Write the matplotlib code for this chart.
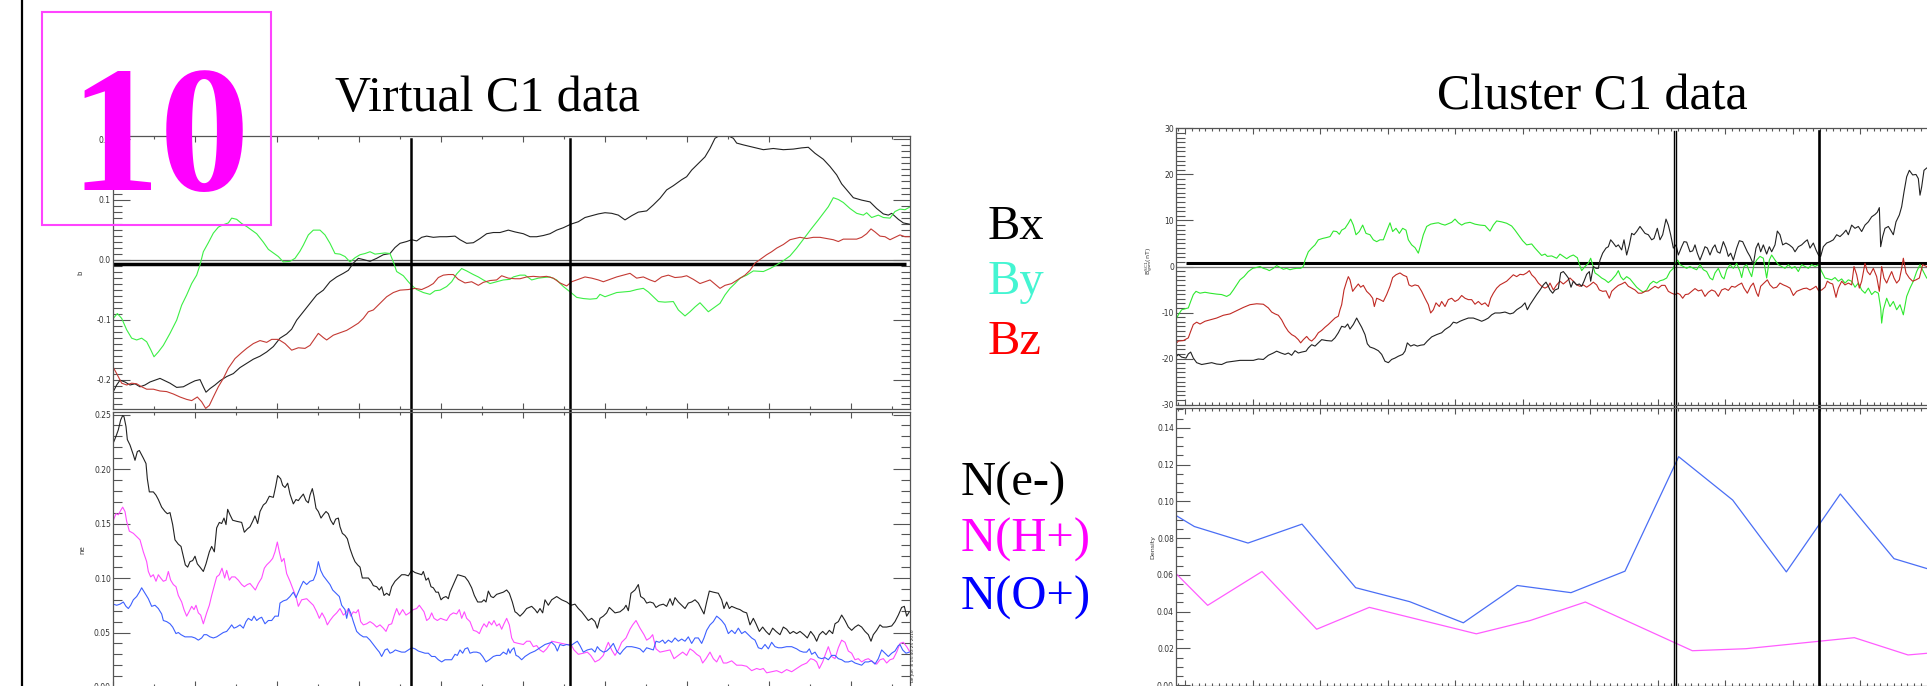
import matplotlib
matplotlib.use("Agg")
import matplotlib.pyplot as plt
import numpy as np
from matplotlib.lines import Line2D
from matplotlib.patches import Rectangle
from matplotlib.ticker import FuncFormatter, MultipleLocator

W, H = 1927, 686
SERIF = ["Liberation Serif", "DejaVu Serif"]

# ---- Virtual C1 (simulation), t = sample index ----
virt_bx = [(1, -0.220), (11, -0.209), (21, -0.201), (36, -0.204), (51, -0.209), (66, -0.207), (81, -0.212),
           (96, -0.209), (111, -0.204), (126, -0.201), (141, -0.198), (156, -0.202), (171, -0.206),
           (191, -0.213), (211, -0.212), (231, -0.206), (246, -0.202), (261, -0.200), (271, -0.212),
           (279, -0.221), (291, -0.215), (306, -0.209), (321, -0.202), (341, -0.195), (361, -0.190),
           (381, -0.180), (401, -0.173), (421, -0.166), (441, -0.161), (461, -0.154), (481, -0.145),
           (501, -0.131), (521, -0.124), (536, -0.116), (551, -0.101), (571, -0.087), (591, -0.073),
           (611, -0.059), (631, -0.051), (651, -0.037), (671, -0.029), (691, -0.023), (706, -0.018),
           (721, -0.006), (736, 0.002), (751, 0.000), (771, -0.003), (791, 0.002), (811, 0.008),
           (831, 0.010), (846, 0.020), (861, 0.027), (881, 0.030), (896, 0.033), (911, 0.031),
           (926, 0.037), (941, 0.039), (961, 0.037), (981, 0.038), (1001, 0.038), (1026, 0.039),
           (1041, 0.033), (1061, 0.027), (1081, 0.028), (1101, 0.035), (1121, 0.043), (1141, 0.045),
           (1161, 0.045), (1186, 0.049), (1206, 0.046), (1231, 0.043), (1251, 0.038), (1271, 0.038),
           (1291, 0.040), (1311, 0.043), (1331, 0.049), (1351, 0.053), (1374, 0.059), (1396, 0.063),
           (1416, 0.070), (1436, 0.073), (1456, 0.076), (1476, 0.078), (1496, 0.077), (1516, 0.074),
           (1536, 0.066), (1556, 0.073), (1576, 0.079), (1601, 0.081), (1621, 0.091), (1641, 0.102),
           (1661, 0.116), (1681, 0.123), (1706, 0.133), (1721, 0.138), (1736, 0.149), (1756, 0.160),
           (1776, 0.171), (1791, 0.185), (1806, 0.202), (1821, 0.207), (1846, 0.206), (1861, 0.202),
           (1871, 0.194), (1891, 0.191), (1921, 0.187), (1951, 0.183), (1981, 0.185), (2011, 0.183),
           (2041, 0.184), (2066, 0.186), (2086, 0.187), (2106, 0.177), (2131, 0.167), (2151, 0.155),
           (2171, 0.141), (2186, 0.126), (2206, 0.113), (2221, 0.103), (2246, 0.099), (2271, 0.096),
           (2291, 0.085), (2311, 0.076), (2326, 0.074), (2336, 0.077), (2356, 0.067), (2371, 0.061),
           (2389, 0.059)]
virt_by = [(1, -0.098), (13, -0.090), (26, -0.098), (41, -0.117), (56, -0.131), (71, -0.134), (86, -0.131),
           (101, -0.137), (113, -0.150), (123, -0.162), (136, -0.154), (151, -0.143), (171, -0.123),
           (191, -0.101), (206, -0.076), (221, -0.059), (236, -0.040), (251, -0.026), (261, -0.009),
           (271, 0.013), (286, 0.028), (301, 0.044), (316, 0.054), (331, 0.058), (346, 0.061),
           (356, 0.069), (371, 0.067), (386, 0.060), (401, 0.055), (416, 0.049), (431, 0.043),
           (451, 0.029), (466, 0.017), (481, 0.011), (496, 0.005), (511, -0.004), (531, -0.003),
           (546, 0.002), (561, 0.014), (571, 0.024), (586, 0.041), (601, 0.049), (621, 0.049),
           (636, 0.041), (651, 0.027), (666, 0.010), (681, 0.009), (696, 0.005), (711, -0.004),
           (726, 0.003), (741, 0.008), (756, 0.010), (771, 0.013), (786, 0.009), (801, 0.010),
           (816, 0.011), (831, 0.010), (841, -0.004), (851, -0.020), (871, -0.027), (886, -0.037),
           (896, -0.043), (911, -0.050), (931, -0.055), (951, -0.058), (966, -0.052), (981, -0.051),
           (1001, -0.045), (1016, -0.037), (1031, -0.024), (1046, -0.015), (1061, -0.019),
           (1081, -0.025), (1096, -0.029), (1111, -0.034), (1131, -0.040), (1151, -0.037),
           (1171, -0.034), (1191, -0.033), (1201, -0.029), (1221, -0.026), (1236, -0.026),
           (1256, -0.034), (1276, -0.031), (1291, -0.030), (1311, -0.029), (1331, -0.034),
           (1351, -0.045), (1374, -0.055), (1391, -0.063), (1411, -0.065), (1431, -0.066),
           (1451, -0.065), (1461, -0.058), (1476, -0.062), (1491, -0.059), (1511, -0.055),
           (1531, -0.054), (1551, -0.053), (1571, -0.050), (1591, -0.048), (1606, -0.054),
           (1621, -0.062), (1636, -0.070), (1656, -0.071), (1681, -0.070), (1696, -0.084),
           (1716, -0.094), (1731, -0.087), (1746, -0.079), (1761, -0.072), (1776, -0.081),
           (1786, -0.087), (1801, -0.081), (1821, -0.073), (1836, -0.059), (1851, -0.048),
           (1866, -0.040), (1881, -0.031), (1901, -0.026), (1921, -0.019), (1951, -0.020),
           (1971, -0.015), (1991, -0.009), (2011, -0.002), (2031, 0.006), (2051, 0.019),
           (2066, 0.030), (2081, 0.041), (2096, 0.052), (2116, 0.066), (2131, 0.077), (2146, 0.088),
           (2161, 0.103), (2176, 0.100), (2191, 0.095), (2211, 0.085), (2231, 0.077), (2251, 0.074),
           (2261, 0.078), (2276, 0.070), (2296, 0.074), (2311, 0.070), (2331, 0.069), (2346, 0.080),
           (2361, 0.084), (2376, 0.083), (2389, 0.087)]
virt_bz = [(1, -0.180), (11, -0.190), (26, -0.206), (41, -0.209), (56, -0.206), (71, -0.207), (86, -0.212),
           (101, -0.216), (121, -0.216), (141, -0.219), (161, -0.220), (181, -0.224), (201, -0.229),
           (221, -0.233), (236, -0.235), (253, -0.229), (266, -0.237), (278, -0.248), (289, -0.243),
           (301, -0.229), (316, -0.212), (331, -0.198), (346, -0.181), (366, -0.165), (386, -0.155),
           (401, -0.148), (421, -0.140), (441, -0.135), (461, -0.138), (476, -0.133), (496, -0.133),
           (516, -0.140), (536, -0.151), (556, -0.147), (576, -0.148), (591, -0.143), (606, -0.131),
           (616, -0.123), (631, -0.130), (641, -0.134), (661, -0.126), (681, -0.122), (701, -0.118),
           (716, -0.113), (736, -0.106), (751, -0.098), (766, -0.087), (781, -0.084), (801, -0.073),
           (821, -0.062), (841, -0.055), (861, -0.051), (886, -0.050), (906, -0.048), (926, -0.050),
           (946, -0.045), (961, -0.040), (976, -0.030), (991, -0.026), (1006, -0.025), (1021, -0.025),
           (1036, -0.033), (1056, -0.039), (1076, -0.037), (1096, -0.043), (1111, -0.038),
           (1131, -0.035), (1151, -0.034), (1166, -0.027), (1186, -0.031), (1206, -0.032),
           (1221, -0.032), (1241, -0.029), (1261, -0.028), (1281, -0.029), (1301, -0.028),
           (1321, -0.031), (1341, -0.039), (1361, -0.044), (1376, -0.037), (1396, -0.033),
           (1416, -0.029), (1436, -0.031), (1456, -0.034), (1471, -0.037), (1491, -0.033),
           (1511, -0.029), (1531, -0.026), (1551, -0.023), (1571, -0.031), (1591, -0.029),
           (1611, -0.034), (1626, -0.037), (1646, -0.029), (1666, -0.026), (1686, -0.030),
           (1706, -0.029), (1721, -0.027), (1741, -0.033), (1761, -0.040), (1776, -0.037),
           (1791, -0.034), (1806, -0.041), (1821, -0.048), (1836, -0.043), (1856, -0.040),
           (1876, -0.033), (1896, -0.026), (1911, -0.018), (1926, -0.006), (1946, 0.002),
           (1961, 0.008), (1976, 0.013), (1991, 0.019), (2011, 0.025), (2031, 0.033), (2046, 0.035),
           (2061, 0.037), (2081, 0.035), (2101, 0.037), (2121, 0.037), (2141, 0.035), (2161, 0.033),
           (2176, 0.030), (2191, 0.034), (2211, 0.034), (2231, 0.034), (2246, 0.037), (2261, 0.043),
           (2274, 0.051), (2286, 0.046), (2301, 0.039), (2316, 0.038), (2331, 0.033), (2346, 0.037),
           (2361, 0.041), (2376, 0.038), (2389, 0.038)]

virt_ne = [(1, 0.224), (9, 0.230), (16, 0.236), (23, 0.245), (29, 0.249), (33, 0.248), (39, 0.239), (43, 0.227),
           (51, 0.222), (61, 0.213), (66, 0.208), (73, 0.216), (79, 0.217), (86, 0.213), (91, 0.210),
           (99, 0.205), (103, 0.191), (109, 0.179), (121, 0.179), (129, 0.176), (136, 0.172), (146, 0.165),
           (156, 0.161), (163, 0.159), (171, 0.160), (179, 0.149), (186, 0.135), (196, 0.131), (204, 0.129),
           (211, 0.120), (217, 0.112), (224, 0.110), (231, 0.115), (239, 0.116), (246, 0.120), (253, 0.113),
           (261, 0.110), (271, 0.106), (279, 0.113), (289, 0.124), (296, 0.129), (304, 0.124), (311, 0.146),
           (319, 0.151), (326, 0.150), (333, 0.155), (339, 0.149), (344, 0.163), (351, 0.158), (359, 0.153),
           (371, 0.152), (386, 0.151), (394, 0.142), (403, 0.145), (411, 0.147), (419, 0.152), (426, 0.157),
           (434, 0.150), (441, 0.161), (451, 0.167), (459, 0.169), (469, 0.175), (481, 0.174), (488, 0.184),
           (494, 0.194), (503, 0.191), (509, 0.185), (516, 0.183), (524, 0.187), (531, 0.177), (541, 0.168),
           (549, 0.172), (556, 0.171), (563, 0.174), (571, 0.177), (579, 0.171), (586, 0.169), (591, 0.176),
           (598, 0.182), (603, 0.175), (609, 0.164), (616, 0.161), (624, 0.155), (631, 0.158), (639, 0.161),
           (646, 0.159), (653, 0.153), (661, 0.149), (668, 0.154), (676, 0.155), (681, 0.147), (688, 0.141),
           (696, 0.139), (703, 0.136), (711, 0.127), (719, 0.120), (726, 0.115), (734, 0.112), (741, 0.110),
           (748, 0.100), (756, 0.100), (766, 0.100), (774, 0.097), (781, 0.093), (791, 0.092), (799, 0.089),
           (806, 0.092), (813, 0.084), (821, 0.086), (829, 0.084), (836, 0.092), (846, 0.097), (856, 0.100),
           (866, 0.103), (876, 0.103), (886, 0.102), (896, 0.107), (906, 0.105), (916, 0.104), (926, 0.103),
           (931, 0.106), (939, 0.098), (946, 0.100), (954, 0.092), (961, 0.091), (969, 0.087), (976, 0.087),
           (984, 0.080), (991, 0.082), (999, 0.083), (1006, 0.081), (1011, 0.087), (1021, 0.094),
           (1034, 0.103), (1046, 0.102), (1056, 0.101), (1066, 0.097), (1076, 0.091), (1084, 0.084),
           (1094, 0.078), (1106, 0.078), (1113, 0.080), (1119, 0.078), (1126, 0.088), (1134, 0.083),
           (1141, 0.082), (1151, 0.085), (1161, 0.086), (1171, 0.087), (1181, 0.089), (1189, 0.086),
           (1198, 0.078), (1206, 0.069), (1211, 0.068), (1221, 0.065), (1231, 0.068), (1241, 0.072),
           (1256, 0.074), (1266, 0.071), (1273, 0.068), (1281, 0.072), (1289, 0.068), (1296, 0.080),
           (1306, 0.075), (1316, 0.080), (1331, 0.083), (1346, 0.080), (1361, 0.078), (1374, 0.075),
           (1386, 0.076), (1396, 0.072), (1406, 0.069), (1416, 0.065), (1426, 0.061), (1436, 0.063),
           (1446, 0.060), (1453, 0.054), (1461, 0.063), (1471, 0.065), (1481, 0.068), (1489, 0.073),
           (1496, 0.071), (1506, 0.068), (1521, 0.069), (1533, 0.072), (1539, 0.075), (1546, 0.070),
           (1554, 0.086), (1566, 0.089), (1576, 0.094), (1583, 0.083), (1593, 0.081), (1601, 0.077),
           (1611, 0.078), (1621, 0.077), (1629, 0.073), (1639, 0.075), (1651, 0.076), (1661, 0.074),
           (1671, 0.081), (1679, 0.075), (1686, 0.082), (1696, 0.078), (1706, 0.075), (1716, 0.072),
           (1726, 0.077), (1736, 0.078), (1746, 0.080), (1756, 0.077), (1766, 0.071), (1773, 0.067),
           (1781, 0.078), (1789, 0.088), (1801, 0.087), (1816, 0.086), (1826, 0.080), (1833, 0.072),
           (1841, 0.078), (1849, 0.072), (1856, 0.074), (1871, 0.072), (1881, 0.071), (1891, 0.069),
           (1901, 0.068), (1911, 0.057), (1921, 0.063), (1929, 0.058), (1939, 0.051), (1949, 0.055),
           (1959, 0.051), (1969, 0.048), (1979, 0.054), (1989, 0.051), (2001, 0.048), (2011, 0.055),
           (2021, 0.053), (2031, 0.049), (2041, 0.051), (2051, 0.049), (2061, 0.051), (2073, 0.048),
           (2083, 0.045), (2093, 0.051), (2103, 0.047), (2111, 0.042), (2119, 0.048), (2129, 0.051),
           (2139, 0.048), (2149, 0.052), (2159, 0.049), (2166, 0.058), (2176, 0.060), (2186, 0.066),
           (2196, 0.061), (2206, 0.055), (2216, 0.052), (2226, 0.055), (2236, 0.057), (2246, 0.055),
           (2256, 0.051), (2266, 0.048), (2274, 0.042), (2281, 0.048), (2291, 0.052), (2301, 0.057),
           (2309, 0.055), (2321, 0.055), (2336, 0.056), (2346, 0.060), (2356, 0.066), (2366, 0.073),
           (2374, 0.074), (2381, 0.065), (2389, 0.069)]
virt_nh = [(1, 0.153), (9, 0.159), (16, 0.158), (23, 0.162), (29, 0.165), (36, 0.161), (41, 0.152), (49, 0.143),
           (61, 0.141), (71, 0.138), (81, 0.135), (91, 0.124), (101, 0.115), (106, 0.106), (113, 0.101),
           (121, 0.103), (129, 0.097), (136, 0.103), (143, 0.100), (151, 0.097), (159, 0.098), (166, 0.106),
           (173, 0.098), (181, 0.094), (189, 0.092), (196, 0.084), (206, 0.078), (213, 0.071), (221, 0.065),
           (228, 0.069), (236, 0.074), (243, 0.071), (249, 0.075), (256, 0.068), (263, 0.066), (271, 0.058),
           (281, 0.068), (289, 0.075), (296, 0.084), (303, 0.092), (311, 0.101), (319, 0.103), (327, 0.109),
           (335, 0.100), (341, 0.107), (349, 0.098), (356, 0.101), (366, 0.101), (376, 0.098), (386, 0.094),
           (394, 0.092), (403, 0.094), (411, 0.095), (419, 0.092), (427, 0.089), (436, 0.095), (446, 0.100),
           (454, 0.109), (461, 0.112), (471, 0.115), (479, 0.118), (486, 0.124), (493, 0.133), (499, 0.124),
           (506, 0.115), (513, 0.118), (521, 0.104), (531, 0.097), (541, 0.089), (549, 0.083), (556, 0.074),
           (566, 0.080), (581, 0.081), (591, 0.078), (601, 0.075), (611, 0.069), (619, 0.063), (627, 0.068),
           (636, 0.063), (643, 0.057), (651, 0.061), (661, 0.065), (671, 0.068), (681, 0.072), (691, 0.066),
           (699, 0.068), (706, 0.072), (713, 0.065), (721, 0.069), (729, 0.068), (736, 0.071), (743, 0.060),
           (751, 0.057), (761, 0.058), (771, 0.060), (781, 0.058), (791, 0.055), (801, 0.057), (811, 0.054),
           (819, 0.051), (827, 0.057), (836, 0.058), (844, 0.066), (851, 0.072), (859, 0.066), (869, 0.071),
           (879, 0.066), (889, 0.068), (901, 0.071), (911, 0.072), (919, 0.075), (926, 0.072), (933, 0.069),
           (941, 0.061), (949, 0.063), (956, 0.068), (963, 0.063), (973, 0.061), (983, 0.063), (991, 0.062),
           (1001, 0.061), (1011, 0.066), (1021, 0.068), (1031, 0.067), (1039, 0.071), (1046, 0.063),
           (1054, 0.069), (1061, 0.063), (1071, 0.060), (1081, 0.052), (1091, 0.051), (1099, 0.049),
           (1106, 0.054), (1113, 0.058), (1121, 0.055), (1128, 0.060), (1136, 0.057), (1143, 0.061),
           (1151, 0.056), (1159, 0.058), (1166, 0.053), (1173, 0.058), (1181, 0.063), (1189, 0.057),
           (1196, 0.045), (1203, 0.041), (1216, 0.040), (1231, 0.039), (1241, 0.042), (1251, 0.042),
           (1261, 0.037), (1271, 0.038), (1281, 0.034), (1291, 0.032), (1301, 0.035), (1316, 0.042),
           (1331, 0.041), (1346, 0.040), (1361, 0.039), (1374, 0.039), (1383, 0.034), (1396, 0.030),
           (1411, 0.031), (1423, 0.032), (1433, 0.029), (1446, 0.023), (1459, 0.025), (1471, 0.029),
           (1479, 0.036), (1486, 0.041), (1496, 0.034), (1506, 0.029), (1516, 0.034), (1526, 0.041),
           (1539, 0.045), (1551, 0.053), (1559, 0.057), (1569, 0.061), (1581, 0.054), (1593, 0.048),
           (1601, 0.043), (1611, 0.045), (1619, 0.048), (1629, 0.035), (1641, 0.032), (1656, 0.033),
           (1671, 0.034), (1683, 0.026), (1696, 0.029), (1709, 0.032), (1721, 0.029), (1731, 0.035),
           (1741, 0.033), (1751, 0.030), (1761, 0.028), (1769, 0.022), (1779, 0.026), (1791, 0.032),
           (1801, 0.026), (1811, 0.023), (1821, 0.029), (1831, 0.022), (1841, 0.022), (1856, 0.024),
           (1871, 0.020), (1886, 0.020), (1901, 0.019), (1916, 0.015), (1931, 0.017), (1941, 0.016),
           (1951, 0.017), (1961, 0.013), (1976, 0.014), (1991, 0.015), (2006, 0.013), (2021, 0.016),
           (2036, 0.014), (2051, 0.017), (2066, 0.020), (2081, 0.022), (2093, 0.026), (2103, 0.025),
           (2111, 0.023), (2119, 0.017), (2129, 0.023), (2136, 0.029), (2146, 0.037), (2156, 0.028),
           (2166, 0.026), (2176, 0.036), (2186, 0.043), (2196, 0.041), (2206, 0.033), (2216, 0.031),
           (2226, 0.025), (2236, 0.026), (2246, 0.023), (2256, 0.025), (2266, 0.026), (2279, 0.023),
           (2291, 0.021), (2301, 0.025), (2311, 0.026), (2321, 0.022), (2331, 0.025), (2341, 0.026),
           (2351, 0.032), (2361, 0.040), (2371, 0.041), (2381, 0.037), (2389, 0.033)]
virt_no = [(1, 0.076), (11, 0.075), (21, 0.076), (31, 0.078), (39, 0.074), (46, 0.072), (53, 0.075), (61, 0.080),
           (71, 0.083), (79, 0.087), (86, 0.091), (96, 0.086), (106, 0.081), (116, 0.074), (126, 0.075),
           (136, 0.072), (146, 0.067), (151, 0.061), (161, 0.060), (171, 0.058), (179, 0.055), (189, 0.049),
           (196, 0.050), (204, 0.048), (216, 0.046), (226, 0.046), (236, 0.046), (246, 0.045), (256, 0.043),
           (266, 0.045), (273, 0.048), (281, 0.048), (291, 0.046), (301, 0.045), (311, 0.046), (321, 0.048),
           (331, 0.050), (341, 0.051), (349, 0.054), (356, 0.057), (363, 0.054), (371, 0.055), (381, 0.057),
           (391, 0.054), (399, 0.060), (406, 0.063), (416, 0.061), (423, 0.065), (431, 0.061), (439, 0.063),
           (446, 0.064), (456, 0.058), (466, 0.061), (476, 0.061), (486, 0.065), (496, 0.065), (501, 0.077),
           (511, 0.079), (521, 0.080), (531, 0.083), (541, 0.087), (549, 0.082), (556, 0.087), (563, 0.092),
           (571, 0.097), (581, 0.094), (591, 0.097), (601, 0.098), (609, 0.104), (616, 0.115), (623, 0.107),
           (631, 0.102), (641, 0.098), (651, 0.094), (659, 0.089), (669, 0.086), (679, 0.083), (686, 0.075),
           (691, 0.073), (696, 0.071), (701, 0.063), (707, 0.072), (713, 0.068), (721, 0.060), (731, 0.051),
           (741, 0.048), (751, 0.046), (761, 0.046), (771, 0.043), (781, 0.039), (791, 0.035), (799, 0.032),
           (806, 0.028), (816, 0.034), (823, 0.035), (831, 0.031), (839, 0.032), (847, 0.034), (856, 0.033),
           (866, 0.032), (876, 0.032), (886, 0.034), (896, 0.036), (906, 0.035), (916, 0.033), (926, 0.032),
           (936, 0.031), (946, 0.031), (956, 0.028), (966, 0.028), (976, 0.025), (986, 0.023), (996, 0.025),
           (1006, 0.025), (1016, 0.025), (1026, 0.030), (1033, 0.029), (1041, 0.034), (1049, 0.031),
           (1056, 0.035), (1064, 0.036), (1071, 0.031), (1081, 0.032), (1091, 0.032), (1101, 0.031),
           (1109, 0.028), (1119, 0.023), (1129, 0.025), (1141, 0.028), (1151, 0.029), (1161, 0.029),
           (1171, 0.032), (1181, 0.030), (1186, 0.035), (1191, 0.031), (1196, 0.034), (1203, 0.036),
           (1209, 0.029), (1216, 0.028), (1226, 0.025), (1236, 0.028), (1251, 0.031), (1266, 0.033),
           (1281, 0.036), (1296, 0.039), (1306, 0.040), (1316, 0.041), (1326, 0.038), (1333, 0.033),
           (1341, 0.039), (1351, 0.038), (1361, 0.039), (1374, 0.038), (1383, 0.040), (1393, 0.042),
           (1401, 0.038), (1411, 0.032), (1423, 0.034), (1436, 0.035), (1446, 0.032), (1453, 0.037),
           (1461, 0.034), (1471, 0.032), (1481, 0.033), (1491, 0.036), (1501, 0.040), (1511, 0.033),
           (1521, 0.030), (1531, 0.034), (1541, 0.037), (1556, 0.037), (1571, 0.036), (1581, 0.035),
           (1591, 0.032), (1601, 0.036), (1611, 0.035), (1621, 0.034), (1629, 0.042), (1639, 0.041),
           (1649, 0.043), (1656, 0.040), (1666, 0.043), (1676, 0.041), (1686, 0.045), (1696, 0.042),
           (1706, 0.044), (1716, 0.042), (1726, 0.046), (1736, 0.040), (1746, 0.045), (1756, 0.045),
           (1766, 0.040), (1773, 0.045), (1781, 0.052), (1791, 0.057), (1801, 0.060), (1811, 0.065),
           (1819, 0.063), (1826, 0.061), (1836, 0.057), (1846, 0.049), (1856, 0.052), (1866, 0.049),
           (1876, 0.054), (1886, 0.049), (1896, 0.051), (1906, 0.048), (1916, 0.045), (1926, 0.043),
           (1936, 0.036), (1946, 0.035), (1956, 0.039), (1966, 0.035), (1976, 0.041), (1986, 0.037),
           (1996, 0.036), (2006, 0.036), (2021, 0.037), (2036, 0.037), (2051, 0.035), (2061, 0.033),
           (2071, 0.032), (2081, 0.032), (2089, 0.035), (2096, 0.030), (2106, 0.032), (2116, 0.027),
           (2126, 0.026), (2136, 0.027), (2146, 0.025), (2156, 0.029), (2166, 0.029), (2176, 0.026),
           (2186, 0.025), (2196, 0.023), (2206, 0.023), (2216, 0.024), (2226, 0.022), (2236, 0.021),
           (2246, 0.020), (2256, 0.023), (2266, 0.023), (2276, 0.024), (2286, 0.021), (2296, 0.026),
           (2306, 0.034), (2316, 0.031), (2326, 0.028), (2336, 0.031), (2346, 0.033), (2356, 0.038),
           (2361, 0.039), (2369, 0.034), (2379, 0.031), (2389, 0.032)]

# ---- Cluster C1 (spacecraft), same time base for field and density ----
clu_bx = [(15, -19.9), (25, -19.1), (35, -19.7), (48, -19.9), (55, -19.0), (62, -18.6), (70, -19.9), (80, -20.9),
          (95, -21.3), (110, -21.1), (125, -20.9), (140, -21.2), (155, -21.3), (170, -20.8), (190, -20.6),
          (210, -20.4), (230, -20.4), (250, -20.4), (265, -20.1), (280, -20.2), (295, -19.3), (310, -18.8),
          (320, -18.4), (333, -18.8), (345, -19.1), (355, -18.8), (365, -19.3), (375, -18.3), (385, -18.8),
          (395, -18.6), (408, -18.4), (415, -17.7), (425, -17.0), (435, -17.3), (445, -16.6), (455, -15.9),
          (470, -16.1), (485, -16.2), (495, -15.5), (505, -14.4), (515, -13.0), (525, -13.2), (533, -12.5),
          (540, -13.6), (550, -12.6), (560, -11.2), (565, -11.9), (575, -13.2), (585, -14.8), (592, -16.8),
          (600, -17.5), (612, -17.8), (625, -18.3), (635, -19.1), (645, -20.6), (655, -20.9), (665, -20.2),
          (675, -19.9), (685, -19.5), (698, -19.1), (705, -18.4), (712, -16.6), (722, -17.3), (732, -17.0),
          (742, -17.3), (752, -17.1), (762, -17.0), (772, -16.2), (785, -15.3), (800, -14.8), (815, -14.4),
          (825, -13.7), (840, -13.0), (850, -12.1), (860, -12.3), (870, -11.9), (880, -11.6), (895, -11.2),
          (910, -11.2), (925, -11.6), (935, -11.9), (945, -11.6), (955, -11.2), (965, -10.5), (975, -10.1),
          (990, -10.1), (1005, -9.9), (1020, -10.3), (1030, -10.1), (1040, -9.4), (1055, -8.7), (1065, -7.9),
          (1072, -9.4), (1080, -8.3), (1090, -7.2), (1100, -6.1), (1110, -5.1), (1120, -4.0), (1128, -3.4),
          (1135, -4.3), (1140, -5.1), (1148, -5.8), (1155, -5.1), (1165, -4.8), (1172, -1.4), (1180, -1.1),
          (1188, -1.8), (1195, -2.5), (1203, -4.5), (1210, -3.2), (1220, -4.0), (1228, -3.8), (1235, -4.3),
          (1242, -3.2), (1250, -1.7), (1258, -1.1), (1262, -3.2), (1270, 0.0), (1278, -0.4), (1285, -0.4),
          (1290, 1.4), (1298, 2.9), (1308, 4.0), (1315, 4.3), (1322, 5.8), (1330, 5.1), (1338, 4.3),
          (1345, 4.7), (1355, 3.6), (1362, 5.8), (1370, 2.5), (1378, 4.7), (1385, 7.2), (1392, 6.9),
          (1400, 7.6), (1410, 8.7), (1418, 7.9), (1425, 7.2), (1435, 6.9), (1445, 5.8), (1452, 6.1),
          (1462, 8.3), (1470, 5.8), (1478, 6.9), (1488, 10.3), (1495, 9.0), (1502, 6.9), (1510, 4.0),
          (1518, 4.7), (1525, 2.5), (1535, 4.3), (1542, 5.4), (1550, 5.3), (1560, 3.2), (1568, 3.4),
          (1575, 4.7), (1582, 2.9), (1590, 1.4), (1598, 2.9), (1605, 4.3), (1612, 4.0), (1620, 2.5),
          (1628, 4.0), (1635, 4.7), (1642, 3.2), (1650, 2.9), (1660, 5.4), (1668, 4.0), (1675, 2.2),
          (1682, 2.9), (1690, 1.4), (1700, 4.0), (1708, 5.6), (1718, 5.4), (1725, 4.3), (1732, 3.2),
          (1740, 2.2), (1750, 0.5), (1758, 4.0), (1765, 5.1), (1772, 3.2), (1780, 4.7), (1790, 2.7),
          (1798, 4.3), (1805, 3.2), (1815, 4.7), (1822, 7.7), (1830, 6.9), (1838, 4.7), (1848, 5.1),
          (1858, 4.7), (1868, 4.1), (1875, 3.2), (1885, 4.3), (1895, 4.7), (1905, 5.4), (1912, 5.8),
          (1920, 4.0), (1930, 5.1), (1938, 3.6), (1946, 2.4), (1952, 2.2), (1960, 4.3), (1970, 5.1),
          (1980, 5.4), (1990, 5.8), (2000, 6.9), (2010, 6.5), (2020, 7.2), (2028, 7.9), (2035, 6.9),
          (2045, 9.0), (2055, 8.3), (2065, 8.7), (2075, 7.6), (2085, 9.0), (2095, 9.7), (2105, 10.8),
          (2115, 11.3), (2122, 11.8), (2128, 12.8), (2132, 4.3), (2138, 6.5), (2145, 8.3), (2155, 8.7),
          (2162, 7.9), (2170, 6.9), (2178, 9.7), (2188, 11.2), (2195, 13.0), (2202, 16.2), (2210, 19.5),
          (2218, 20.9), (2228, 19.9), (2238, 20.0), (2245, 19.1), (2250, 15.5), (2255, 17.3), (2262, 20.9),
          (2270, 21.4)]
clu_by = [(15, -11.9), (25, -10.5), (35, -9.4), (45, -9.2), (55, -9.0), (62, -7.6), (70, -6.1), (78, -5.4),
          (90, -5.8), (105, -5.6), (120, -5.8), (140, -6.0), (155, -6.1), (170, -6.5), (180, -6.1),
          (190, -5.1), (200, -4.0), (210, -2.9), (222, -2.2), (235, -1.1), (248, -0.4), (260, -0.2),
          (270, 0.0), (280, -0.4), (290, -0.6), (298, -0.9), (310, -0.4), (320, 0.2), (330, -0.2),
          (340, -0.6), (350, -0.4), (360, -0.7), (370, -0.5), (380, -0.4), (392, -0.4), (400, 0.0),
          (405, 1.4), (415, 3.2), (425, 4.0), (435, 4.7), (445, 5.8), (458, 6.1), (470, 6.3), (480, 6.5),
          (490, 7.7), (500, 7.6), (508, 7.0), (515, 7.9), (525, 8.3), (535, 9.4), (542, 10.3), (550, 9.0),
          (558, 6.9), (568, 7.6), (578, 9.0), (588, 7.2), (600, 6.9), (610, 5.8), (620, 5.4), (630, 5.8),
          (640, 5.8), (650, 7.7), (660, 9.5), (668, 7.6), (678, 8.3), (688, 7.2), (698, 8.3), (708, 7.9),
          (715, 5.8), (725, 4.7), (735, 4.1), (745, 2.9), (752, 4.7), (760, 6.9), (770, 8.7), (782, 9.2),
          (795, 9.4), (805, 9.5), (815, 9.2), (825, 9.0), (835, 9.3), (845, 9.6), (855, 10.3), (865, 9.5),
          (875, 9.0), (885, 9.4), (900, 9.6), (915, 9.2), (930, 9.0), (945, 8.9), (960, 7.7), (970, 9.0),
          (980, 9.9), (995, 9.7), (1010, 9.4), (1025, 8.8), (1035, 7.9), (1045, 6.9), (1058, 5.6),
          (1070, 4.7), (1085, 4.9), (1095, 4.0), (1105, 3.2), (1115, 2.4), (1125, 2.7), (1132, 2.2),
          (1145, 2.3), (1160, 1.8), (1170, 2.7), (1180, 2.2), (1190, 1.7), (1200, 2.2), (1210, 2.5),
          (1222, 1.9), (1228, 0.5), (1235, -0.9), (1245, 0.0), (1255, 0.7), (1262, 1.8), (1268, 0.4),
          (1275, -1.4), (1285, -1.9), (1295, -2.5), (1305, -2.9), (1315, -3.5), (1325, -2.9), (1338, -1.8),
          (1345, -0.9), (1352, -2.2), (1360, -2.9), (1370, -2.2), (1380, -2.7), (1390, -3.6), (1400, -4.5),
          (1410, -5.1), (1420, -5.6), (1430, -5.1), (1440, -3.8), (1450, -3.2), (1460, -3.6), (1470, -3.1),
          (1480, -2.9), (1490, -2.5), (1500, -1.1), (1510, -0.4), (1515, 0.7), (1523, 1.4), (1530, 0.4),
          (1540, 0.0), (1550, -0.4), (1560, 0.0), (1570, -0.4), (1580, -0.7), (1590, 0.4), (1600, -0.7),
          (1610, -1.1), (1620, -2.5), (1628, -2.9), (1635, -1.4), (1645, -0.4), (1655, -2.2), (1662, -2.7),
          (1670, -0.7), (1680, 0.4), (1690, -0.4), (1700, 0.7), (1710, -1.1), (1715, -2.4), (1722, 0.0),
          (1730, 0.4), (1738, -1.1), (1745, -2.2), (1752, 0.4), (1760, 1.4), (1770, 2.2), (1780, 1.8),
          (1790, -2.5), (1798, 1.4), (1805, 2.5), (1815, 1.4), (1825, 0.4), (1835, 0.0), (1845, -0.4),
          (1855, 0.4), (1865, -0.4), (1875, 0.0), (1885, -1.1), (1895, 0.4), (1905, 0.0), (1915, -0.4),
          (1925, 0.4), (1935, 0.0), (1946, 0.4), (1955, -1.1), (1965, -2.5), (1975, -2.7), (1985, -2.9),
          (1995, -2.4), (2005, -3.2), (2015, -2.7), (2025, -3.6), (2035, -2.9), (2045, -3.2), (2055, -4.5),
          (2065, -3.6), (2075, -5.1), (2085, -5.8), (2095, -4.7), (2105, -6.1), (2115, -5.4), (2125, -5.8),
          (2132, -9.0), (2135, -12.3), (2140, -9.4), (2150, -6.9), (2160, -8.7), (2170, -7.6), (2180, -9.4),
          (2190, -8.3), (2200, -10.5), (2210, -6.5), (2220, -4.7), (2230, -3.2), (2240, -1.1), (2250, 0.4),
          (2260, -1.1), (2270, -2.5)]
clu_bz = [(15, -17.0), (25, -16.2), (40, -16.1), (55, -15.5), (62, -14.1), (70, -12.6), (80, -12.1), (90, -12.5),
          (105, -11.9), (120, -11.6), (140, -11.2), (160, -10.6), (180, -10.3), (200, -9.6), (220, -8.9),
          (240, -8.3), (260, -8.1), (280, -8.2), (295, -9.0), (305, -9.9), (315, -10.3), (325, -10.6),
          (335, -11.6), (345, -13.0), (355, -14.1), (365, -14.8), (375, -15.2), (385, -15.9), (392, -16.6),
          (400, -15.9), (410, -15.2), (418, -15.9), (425, -16.2), (435, -15.5), (445, -14.4), (455, -13.9),
          (465, -13.2), (475, -12.6), (485, -11.9), (495, -11.2), (505, -10.8), (510, -9.4), (515, -8.3),
          (522, -5.1), (530, -3.2), (535, -2.2), (540, -2.9), (548, -5.4), (555, -4.7), (565, -3.8),
          (572, -4.5), (580, -4.1), (590, -5.4), (600, -6.1), (608, -6.9), (613, -8.7), (620, -6.9),
          (630, -7.2), (640, -7.6), (650, -6.1), (660, -4.3), (668, -2.4), (678, -1.8), (690, -1.4),
          (700, -1.9), (710, -2.2), (717, -4.0), (725, -4.3), (735, -4.0), (745, -4.2), (755, -5.4),
          (765, -6.9), (775, -8.3), (782, -10.1), (790, -9.4), (798, -7.9), (808, -8.7), (815, -7.6),
          (825, -8.7), (835, -7.2), (845, -6.9), (855, -7.6), (865, -7.2), (875, -6.3), (885, -6.9),
          (895, -7.2), (905, -7.2), (915, -8.2), (925, -7.6), (935, -8.3), (945, -7.9), (955, -8.7),
          (962, -6.9), (970, -5.8), (980, -4.7), (990, -4.0), (1000, -3.6), (1010, -3.2), (1020, -2.5),
          (1030, -1.8), (1040, -2.2), (1050, -1.7), (1060, -1.8), (1070, -1.4), (1078, -0.9), (1085, -1.8),
          (1095, -2.5), (1105, -3.6), (1115, -4.3), (1125, -4.7), (1135, -4.3), (1140, -3.6), (1150, -5.1),
          (1160, -4.0), (1170, -3.2), (1180, -3.8), (1190, -3.2), (1200, -2.5), (1210, -3.2), (1220, -4.0),
          (1230, -4.3), (1240, -4.0), (1250, -4.5), (1260, -4.0), (1270, -3.4), (1280, -4.0), (1288, -5.1),
          (1298, -5.4), (1308, -5.3), (1318, -6.9), (1325, -5.4), (1335, -4.7), (1345, -4.1), (1355, -3.8),
          (1365, -3.4), (1375, -4.3), (1385, -4.7), (1395, -5.1), (1405, -5.8), (1415, -5.8), (1425, -5.4),
          (1435, -5.3), (1445, -4.8), (1455, -4.3), (1465, -4.7), (1475, -4.1), (1485, -4.1), (1495, -5.4),
          (1505, -5.8), (1515, -6.1), (1523, -5.8), (1530, -6.1), (1538, -6.9), (1546, -6.1), (1555, -6.0),
          (1565, -5.4), (1575, -4.8), (1585, -5.3), (1595, -5.1), (1605, -6.5), (1615, -5.6), (1625, -5.1),
          (1635, -5.4), (1645, -6.5), (1655, -5.1), (1665, -4.8), (1675, -5.2), (1685, -4.3), (1695, -4.5),
          (1705, -4.0), (1715, -3.6), (1722, -4.7), (1732, -5.8), (1742, -4.3), (1750, -3.6), (1760, -5.8),
          (1765, -6.5), (1772, -4.3), (1782, -3.6), (1792, -2.9), (1800, -4.0), (1810, -4.7), (1820, -4.5),
          (1830, -3.6), (1840, -4.0), (1850, -4.3), (1860, -4.7), (1870, -6.3), (1880, -5.4), (1890, -5.1),
          (1900, -4.8), (1910, -4.7), (1920, -5.1), (1930, -4.7), (1938, -4.3), (1946, -5.3), (1955, -5.1),
          (1965, -4.5), (1972, -3.2), (1980, -3.6), (1988, -3.8), (1998, -6.7), (2005, -4.7), (2015, -3.2),
          (2025, -4.0), (2035, -3.6), (2045, -4.0), (2052, 0.0), (2060, -1.8), (2068, -4.7), (2075, -3.2),
          (2085, 0.7), (2092, -1.1), (2100, -1.8), (2110, -0.4), (2120, -2.2), (2128, -5.4), (2135, 0.0),
          (2142, -2.5), (2150, -3.6), (2158, -2.2), (2165, -1.1), (2172, -2.5), (2180, -3.6), (2188, -2.9),
          (2195, -0.4), (2200, 1.8), (2208, -1.4), (2218, -2.5), (2228, -3.2), (2238, -2.9), (2248, -2.5),
          (2258, 0.4), (2270, 0.0)]
clu_dens_o = [(18, 0.0923), (73, 0.0863), (234, 0.0773), (396, 0.0876), (557, 0.0530), (719, 0.0454),
              (880, 0.0339), (1042, 0.0542), (1203, 0.0503), (1365, 0.0620), (1526, 0.1243), (1688, 0.1007),
              (1849, 0.0616), (2011, 0.1040), (2172, 0.0688), (2271, 0.0634)]
clu_dens_h = [(18, 0.0607), (113, 0.0434), (276, 0.0618), (440, 0.0304), (598, 0.0423), (919, 0.0279),
              (1080, 0.0351), (1246, 0.0452), (1567, 0.0187), (1728, 0.0198), (2053, 0.0258), (2214, 0.0164),
              (2271, 0.0173)]

virt_marks = [894, 1372]          # interval boundaries on the simulation run
clu_marks = [1512, 1518, 1947]    # interval boundaries on the spacecraft pass

fig = plt.figure(figsize=(W / 100, H / 100), dpi=100)


def px_box(x0, y0, x1, y1):
    return [x0 / W, 1 - y1 / H, (x1 - x0) / W, (y1 - y0) / H]


def setup(ax, xmaj, xmin, ymaj, ymin, fmt, xoff=0.0, ylen=(12, 6.5)):
    for s in ax.spines.values():
        s.set_color("#555555")
        s.set_linewidth(0.9)
    ax.xaxis.set_major_locator(MultipleLocator(xmaj, offset=xoff))
    ax.xaxis.set_minor_locator(MultipleLocator(xmin, offset=xoff % xmin))
    ax.yaxis.set_major_locator(MultipleLocator(ymaj))
    ax.yaxis.set_minor_locator(MultipleLocator(ymin))
    ax.yaxis.set_major_formatter(FuncFormatter(fmt))
    ax.tick_params(which="both", direction="in", top=True, right=True, color="#555555",
                   labelbottom=False, labelsize=5.5, labelcolor="#333333", pad=1.5, width=0.8)
    ax.tick_params(axis="y", which="major", length=ylen[0])
    ax.tick_params(axis="y", which="minor", length=ylen[1])
    ax.tick_params(axis="x", which="major", length=4.5)
    ax.tick_params(axis="x", which="minor", length=2.5)


def draw(ax, pts, color, lw=0.8):
    t, v = np.array(pts).T
    ax.plot(t, v, color=color, lw=lw)


fmt1 = lambda v, _: f"{v:.1f}".replace("-0.0", "0.0")
fmt2 = lambda v, _: f"{v:.2f}".replace("-0.00", "0.00")
fmt0 = lambda v, _: f"{v:.0f}".replace("-0", "0") if abs(v) < 0.5 else f"{v:.0f}"

# Virtual C1 panel
ax_vb = fig.add_axes(px_box(113, 136, 910, 409))
ax_vn = fig.add_axes(px_box(113, 412, 910, 687))
for ax in (ax_vb, ax_vn):
    ax.set_xlim(0, 2391)
ax_vb.set_ylim(-0.249, 0.2058)
ax_vn.set_ylim(0, 0.2523)
setup(ax_vb, 246, 123, 0.1, 0.01, fmt1)
setup(ax_vn, 246, 123, 0.05, 0.01, fmt2)

ax_vb.axhline(0.0, color="#666666", lw=0.9)
ax_vb.hlines(-0.0067, 0, 2380, color="black", lw=2.5)
draw(ax_vb, virt_bx, "#222222")
draw(ax_vb, virt_by, "#3cef45")
draw(ax_vb, virt_bz, "#c43a34")
draw(ax_vn, virt_ne, "#222222")
draw(ax_vn, virt_nh, "#ff4dff")
draw(ax_vn, virt_no, "#3d60ff")
for t in virt_marks:
    ax_vb.axvline(t, ymin=-0.03, ymax=0.989, color="black", lw=1.8, clip_on=False)
    ax_vn.axvline(t, color="black", lw=1.8)

ax_vb.set_ylabel("b", fontsize=5, color="#333333")
ax_vb.yaxis.set_label_coords(-30 / 797, 0.5)
ax_vn.set_ylabel("ne", fontsize=5, color="#333333")
ax_vn.yaxis.set_label_coords(-28 / 797, 0.5)

# Cluster C1 panel (runs past the right edge of the page)
ax_cb = fig.add_axes(px_box(1176, 128, 2000, 405))
ax_cn = fig.add_axes(px_box(1176, 408, 2000, 686))
for ax in (ax_cb, ax_cn):
    ax.set_xlim(18, 2490)
ax_cb.set_ylim(-30.1, 30.1)
ax_cn.set_ylim(-0.0005, 0.1508)
setup(ax_cb, 202.5, 20.25, 10, 1, fmt0, xoff=45.6)
setup(ax_cn, 202.5, 20.25, 0.02, 0.005, fmt2, xoff=45.6, ylen=(10, 5))

ax_cb.axhline(0.0, color="#777777", lw=0.9)
ax_cb.hlines(0.7, 48, 2490, color="black", lw=2.2)
draw(ax_cb, clu_by, "#2fe82f")
draw(ax_cb, clu_bz, "#c02a24")
draw(ax_cb, clu_bx, "#222222")
draw(ax_cn, clu_dens_o, "#4a6ef5", lw=0.9)
draw(ax_cn, clu_dens_h, "#ff5cff", lw=0.9)
for t in clu_marks:
    w = 1.0 if t != clu_marks[-1] else 1.9
    ax_cb.axvline(t, ymin=-0.03, ymax=0.989, color="black", lw=w, clip_on=False)
    ax_cn.axvline(t, color="black", lw=w)

ax_cb.set_ylabel(r"B$_{\rm gsm}^{\rm SC1}$(nT)", fontsize=4.5, color="#333333")
ax_cb.yaxis.set_label_coords(-20 / 824, 0.52)
ax_cn.set_ylabel("Density", fontsize=4.5, color="#333333")
ax_cn.yaxis.set_label_coords(-21 / 824, 0.5)

# Titles and colour key
fig.text(487 / W, 1 - 111 / H, "Virtual C1 data", ha="center", va="baseline", fontsize=36, family=SERIF)
fig.text(1592 / W, 1 - 110 / H, "Cluster C1 data", ha="center", va="baseline", fontsize=36, family=SERIF)
for label, color, y in [("Bx", "black", 239), ("By", "#44f5d2", 294), ("Bz", "#ff0000", 354)]:
    fig.text(988 / W, 1 - y / H, label, color=color, ha="left", va="baseline", fontsize=35, family=SERIF)
for label, color, y in [("N(e-)", "black", 496), ("N(H+)", "#ff00ff", 552), ("N(O+)", "#0000ff", 610)]:
    fig.text(961 / W, 1 - y / H, label, color=color, ha="left", va="baseline", fontsize=35, family=SERIF)

fig.text(913 / W, 1 - 684 / H, "Tue Jun  8 15:40:25 2010", rotation=90, fontsize=3.2,
         ha="center", va="bottom", color="#222222")

# Slide number box and page frame
fig.add_artist(Rectangle((42 / W, 1 - 225 / H), 229 / W, 213 / H, transform=fig.transFigure,
                         fill=False, edgecolor="#ff44ff", lw=1.5, zorder=6))
fig.text(160 / W, 1 - 190 / H, "10", color="#ff00ff", ha="center", va="baseline", fontsize=130,
         fontweight="bold", family=SERIF, zorder=7)
fig.add_artist(Line2D([22 / W, 22 / W], [0, 1], color="black", lw=1.6, transform=fig.transFigure))

fig.savefig("out.png", dpi=100, facecolor="white")
